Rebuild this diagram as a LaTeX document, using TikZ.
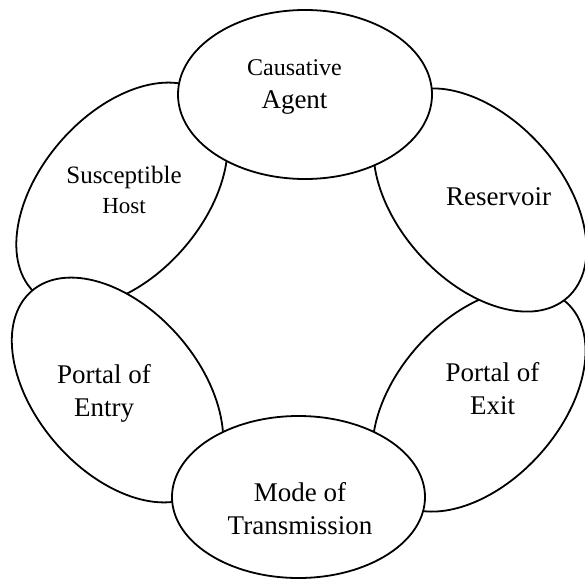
\documentclass[tikz,border=0pt]{standalone}
\usepackage{fontspec}
\setmainfont{Liberation Serif}
\begin{document}
\begin{tikzpicture}[x=1pt,y=-1pt,
        ring/.style={draw=black, fill=white, line width=1.8pt},
        lbl/.style={align=center, inner sep=0pt, font=\fontsize{27}{33}\selectfont}]
        \useasboundingbox (0,0) rectangle (585,580);

        \pgfmathsetmacro{\ringa}{131}
        \pgfmathsetmacro{\ringb}{81.5}

        % links of the chain, back to front
        \draw[ring, rotate around={48:(479,400)}] (479,400) ellipse [x radius=\ringa pt, y radius=\ringb pt];
        \draw[ring, rotate around={-48:(480,200)}] (480,200) ellipse [x radius=\ringa pt, y radius=\ringb pt];
        \draw[ring, rotate around={49:(122,195)}] (122,195) ellipse [x radius=\ringa pt, y radius=\ringb pt];
        \draw[ring] (305,94.5) ellipse [x radius=127pt, y radius=84.5pt];
        \draw[ring, rotate around={-49:(117.5,390)}] (117.5,390) ellipse [x radius=\ringa pt, y radius=\ringb pt];
        \draw[ring] (298.5,497) ellipse [x radius=126.5pt, y radius=81pt];

        \node[lbl] (agent) at (294.5,87) {{\fontsize{24}{30}\selectfont Causative}\\Agent};
        \node[lbl] (reservoir) at (498.5,197) {Reservoir};
        \node[lbl] (exit) at (492.5,389) {Portal of\\Exit};
        \node[lbl] (mode) at (300,509) {Mode of\\Transmission};
        \node[lbl] (entry) at (104,393) {Portal of\\Entry};
        \node[lbl, font=\fontsize{23}{30}\selectfont] (host) at (124,189.5) {{\fontsize{25}{30}\selectfont Susceptible}\\Host};
    \end{tikzpicture}
\end{document}
